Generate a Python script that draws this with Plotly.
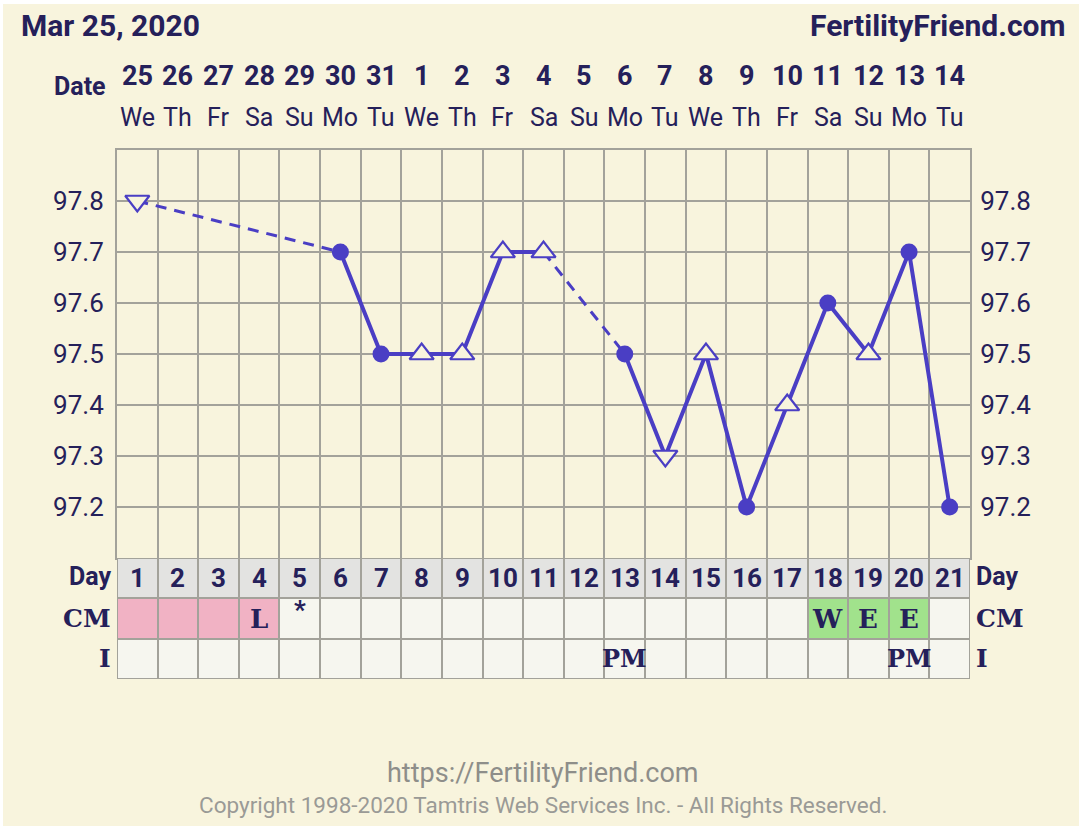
import plotly.graph_objects as go

# ---------------- data ----------------
cycle_days = list(range(1, 22))
date_nums = ["25", "26", "27", "28", "29", "30", "31", "1", "2", "3", "4",
             "5", "6", "7", "8", "9", "10", "11", "12", "13", "14"]
weekdays = ["We", "Th", "Fr", "Sa", "Su", "Mo", "Tu", "We", "Th", "Fr", "Sa",
            "Su", "Mo", "Tu", "We", "Th", "Fr", "Sa", "Su", "Mo", "Tu"]
temps = [97.8, None, None, None, None, 97.7, 97.5, 97.5, 97.5, 97.7, 97.7,
         None, 97.5, 97.3, 97.5, 97.2, 97.4, 97.6, 97.5, 97.7, 97.2]
marker_kind = ["triangle-down", None, None, None, None, "circle", "circle",
               "triangle-up", "triangle-up", "triangle-up", "triangle-up", None,
               "circle", "triangle-down", "triangle-up", "circle", "triangle-up",
               "circle", "triangle-up", "circle", "circle"]
cm_labels = ["", "", "", "L", "*", "", "", "", "", "", "", "", "", "", "", "",
             "", "W", "E", "E", ""]
cm_state = ["flow", "flow", "flow", "flow", "", "", "", "", "", "", "", "", "",
            "", "", "", "", "fertile", "fertile", "fertile", ""]
intercourse = ["", "", "", "", "", "", "", "", "", "", "", "", "PM", "", "", "",
               "", "", "", "PM", ""]
temp_ticks = [97.1, 97.2, 97.3, 97.4, 97.5, 97.6, 97.7, 97.8, 97.9]
temp_ticktext = ["", "97.2", "97.3", "97.4", "97.5", "97.6", "97.7", "97.8", ""]

# ---------------- style ----------------
W, H = 1079, 826
BG = "#f8f4dd"
NAVY = "#25205a"
LINE = "#4a3ec4"
GRID = "#a3a29a"
FOOT = "#8e8e8a"
SERIF = "DejaVu Serif"

def px_x(p):
    return p / W

def px_y(p):
    return 1 - p / H

GRID_L, GRID_R = 117, 970
TEMP_T, TEMP_B = 150, 558
TAB_B = 679

fig = go.Figure()

# table cells (heatmap) ------------------------------------------------------
state_code = {"": 1, "flow": 2, "fertile": 3}
z = [
    [1] * len(cycle_days),                       # I row
    [state_code[s] for s in cm_state],           # CM row
    [0] * len(cycle_days),                       # Day row
]
colorscale = [
    [0.0, "#e3e3e1"], [0.25, "#e3e3e1"],
    [0.25, "#f6f6ef"], [0.5, "#f6f6ef"],
    [0.5, "#f1b2c4"], [0.75, "#f1b2c4"],
    [0.75, "#a1e28c"], [1.0, "#a1e28c"],
]
fig.add_trace(go.Heatmap(
    x=cycle_days, y=[0.5, 1.5, 2.5], z=z, zmin=-0.5, zmax=3.5,
    colorscale=colorscale, showscale=False, xgap=2, ygap=2,
    hoverinfo="skip", xaxis="x", yaxis="y3",
))

# temperature lines ------------------------------------------------------------
fig.add_trace(go.Scatter(
    x=cycle_days, y=temps, mode="lines", connectgaps=False,
    line=dict(color=LINE, width=4), hoverinfo="skip", xaxis="x", yaxis="y",
))

# dashed bridges over gaps
bx, by = [], []
valid = [(d, t) for d, t in zip(cycle_days, temps) if t is not None]
for (d0, t0), (d1, t1) in zip(valid[:-1], valid[1:]):
    if d1 - d0 > 1:
        bx += [d0, d1, None]
        by += [t0, t1, None]
fig.add_trace(go.Scatter(
    x=bx, y=by, mode="lines", line=dict(color=LINE, width=3, dash="11px,8px"),
    hoverinfo="skip", xaxis="x", yaxis="y",
))

# markers
mx = [d for d, t in zip(cycle_days, temps) if t is not None]
my = [t for t in temps if t is not None]
mk = [k for k, t in zip(marker_kind, temps) if t is not None]
fig.add_trace(go.Scatter(
    x=mx, y=my, mode="markers",
    marker=dict(
        symbol=mk, opacity=1,
        size=[17 if k == "circle" else 21 for k in mk],
        color=[LINE if k == "circle" else BG for k in mk],
        line=dict(color=LINE, width=[0 if k == "circle" else 2.2 for k in mk]),
    ),
    hoverinfo="skip", xaxis="x", yaxis="y",
))

# right axis dummy trace
fig.add_trace(go.Scatter(x=[None], y=[None], xaxis="x", yaxis="y2",
                         showlegend=False, hoverinfo="skip"))

# ---------------- annotations ----------------
ann = []
# header
ann.append(dict(text="<b>Mar 25, 2020</b>", x=px_x(19), y=px_y(26), xref="paper",
                yref="paper", xanchor="left", yanchor="middle", showarrow=False,
                font=dict(family="Roboto", size=30, color=NAVY)))
ann.append(dict(text="<b>FertilityFriend.com</b>", x=px_x(1067), y=px_y(26),
                xref="paper", yref="paper", xanchor="right", yanchor="middle",
                showarrow=False, font=dict(family="Roboto", size=30, color=NAVY)))
ann.append(dict(text="<b>Date</b>", x=px_x(108), y=px_y(87), xref="paper",
                yref="paper", xanchor="right", yanchor="middle", showarrow=False,
                font=dict(family="Roboto", size=25, color=NAVY)))
for d, dn, wd in zip(cycle_days, date_nums, weekdays):
    ann.append(dict(text="<b>%s</b>" % dn, x=d, y=px_y(76), xref="x", yref="paper",
                    xanchor="center", yanchor="middle", showarrow=False,
                    font=dict(family="Roboto", size=27, color=NAVY)))
    ann.append(dict(text=wd, x=d, y=px_y(117), xref="x", yref="paper",
                    xanchor="center", yanchor="middle", showarrow=False,
                    font=dict(family="Roboto", size=25, color=NAVY)))
# table text
for d in cycle_days:
    ann.append(dict(text="<b>%d</b>" % d, x=d, y=2.5, xref="x", yref="y3",
                    xanchor="center", yanchor="middle", showarrow=False,
                    font=dict(family="Roboto", size=26, color=NAVY)))
for d, c in zip(cycle_days, cm_labels):
    if c:
        star = c == "*"
        ann.append(dict(text="<b>%s</b>" % c, x=d, y=1.72 if star else 1.5,
                        xref="x", yref="y3", xanchor="center", yanchor="middle",
                        showarrow=False,
                        font=dict(family="Roboto" if star else SERIF,
                                  size=26 if star else 26, color=NAVY)))
for d, c in zip(cycle_days, intercourse):
    if c:
        ann.append(dict(text="<b>%s</b>" % c, x=d, y=0.5, xref="x", yref="y3",
                        xanchor="center", yanchor="middle", showarrow=False,
                        font=dict(family=SERIF, size=24, color=NAVY)))
# row labels both sides
row_labels = [("Day", 2.5, "Roboto", 25, -2), ("CM", 1.5, SERIF, 25, 0),
              ("I", 0.5, SERIF, 25, 0)]
for txt, yy, fam, sz, dy in row_labels:
    ann.append(dict(text="<b>%s</b>" % txt, x=px_x(GRID_L - 4), y=yy, xref="paper",
                    yref="y3", xanchor="right", yanchor="middle", showarrow=False,
                    yshift=-dy, font=dict(family=fam, size=sz, color=NAVY)))
    ann.append(dict(text="<b>%s</b>" % txt, x=px_x(GRID_R + 4), y=yy, xref="paper",
                    yref="y3", xanchor="left", yanchor="middle", showarrow=False,
                    yshift=-dy, font=dict(family=fam, size=sz, color=NAVY)))
# footer
ann.append(dict(text="https://FertilityFriend.com", x=px_x(543), y=px_y(773),
                xref="paper", yref="paper", xanchor="center", yanchor="middle",
                showarrow=False, font=dict(family="Roboto", size=27, color=FOOT)))
ann.append(dict(text="Copyright 1998-2020 Tamtris Web Services Inc. - All Rights Reserved.",
                x=px_x(543), y=px_y(805), xref="paper", yref="paper",
                xanchor="center", yanchor="middle", showarrow=False,
                font=dict(family="Roboto", size=22.5, color="#9a9a96")))

shapes = [
    # cream card on white page
    dict(type="rect", xref="paper", yref="paper", x0=px_x(3), x1=1, y0=0, y1=px_y(4),
         fillcolor=BG, line=dict(width=0), layer="below"),
    # grey under table so heatmap gaps read as grid lines
    dict(type="rect", xref="x", yref="y3", x0=0.5, x1=21.5, y0=0, y1=3,
         fillcolor=GRID, line=dict(width=0), layer="below"),
]

bounds = [i + 0.5 for i in range(0, 22)]
fig.update_layout(
    width=W, height=H, margin=dict(l=0, r=0, t=0, b=0),
    paper_bgcolor="white", plot_bgcolor=BG, showlegend=False,
    annotations=ann, shapes=shapes,
    xaxis=dict(domain=[px_x(GRID_L), px_x(GRID_R)], range=[0.5, 21.5],
               tickvals=bounds, showticklabels=False, ticks="",
               showgrid=True, gridcolor=GRID, gridwidth=2, zeroline=False,
               showline=True, linecolor=GRID, linewidth=2, mirror=True,
               anchor="y", fixedrange=True),
    yaxis=dict(domain=[px_y(TEMP_B), px_y(TEMP_T)], range=[97.1, 97.9],
               tickvals=temp_ticks, ticktext=temp_ticktext, ticks="outside",
               ticklen=6, tickcolor="rgba(0,0,0,0)",
               tickfont=dict(family="Roboto", size=26, color=NAVY),
               showgrid=True, gridcolor=GRID, gridwidth=2, zeroline=False,
               showline=True, linecolor=GRID, linewidth=2, mirror=True,
               anchor="x", fixedrange=True),
    yaxis2=dict(overlaying="y", side="right", range=[97.1, 97.9], anchor="x",
                tickvals=temp_ticks, ticktext=temp_ticktext, ticks="outside",
                ticklen=4, tickcolor="rgba(0,0,0,0)",
                tickfont=dict(family="Roboto", size=26, color=NAVY),
                showgrid=False, zeroline=False, fixedrange=True),
    yaxis3=dict(domain=[px_y(TAB_B), px_y(TEMP_B)], range=[0, 3], anchor="x",
                showticklabels=False, ticks="", showgrid=False, zeroline=False,
                showline=False, fixedrange=True),
)

fig.write_html(
    "out.html",
    config={"displayModeBar": False},
    post_script="document.body.style.margin='0';document.body.style.overflow='hidden';",
)
